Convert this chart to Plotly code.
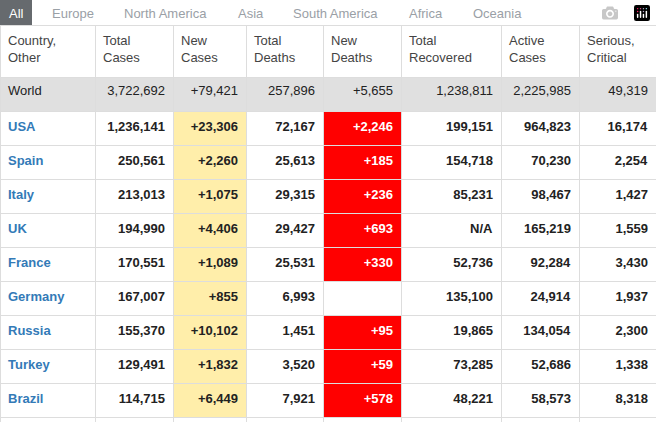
import plotly.graph_objects as go

tabs = ['All', 'Europe', 'North America', 'Asia', 'South America', 'Africa', 'Oceania']
tab_x = [16, 50, 122, 236, 291, 407, 471]

headers = ['Country,<br>Other', 'Total<br>Cases', 'New<br>Cases', 'Total<br>Deaths', 'New<br>Deaths',
           'Total<br>Recovered', 'Active<br>Cases', 'Serious,<br>Critical']
countries = ['World', 'USA', 'Spain', 'Italy', 'UK', 'France', 'Germany', 'Russia', 'Turkey', 'Brazil']
total_cases = ['3,722,692', '1,236,141', '250,561', '213,013', '194,990', '170,551', '167,007', '155,370', '129,491', '114,715']
new_cases = ['+79,421', '+23,306', '+2,260', '+1,075', '+4,406', '+1,089', '+855', '+10,102', '+1,832', '+6,449']
total_deaths = ['257,896', '72,167', '25,613', '29,315', '29,427', '25,531', '6,993', '1,451', '3,520', '7,921']
new_deaths = ['+5,655', '+2,246', '+185', '+236', '+693', '+330', '', '+95', '+59', '+578']
total_recovered = ['1,238,811', '199,151', '154,718', '85,231', 'N/A', '52,736', '135,100', '19,865', '73,285', '48,221']
active_cases = ['2,225,985', '964,823', '70,230', '98,467', '165,219', '92,284', '24,914', '134,054', '52,686', '58,573']
serious = ['49,319', '16,174', '2,254', '1,427', '1,559', '3,430', '1,937', '2,300', '1,338', '8,318']

col_widths = [95, 78, 73, 77, 78, 100, 78, 77]

def bold(vals, first_plain=True):
    out = []
    for i, v in enumerate(vals):
        out.append(v if (i == 0 and first_plain) or v == '' else '<b>' + v + '</b>')
    return out

names = ['World'] + ['<b>' + c + '</b>' for c in countries[1:]]
cols = [names, bold(total_cases), bold(new_cases), bold(total_deaths), bold(new_deaths),
        bold(total_recovered), bold(active_cases), bold(serious)]
cols = [c + [''] for c in cols]  # partial row at bottom

n = len(countries) + 1
gray = '#e0e0e0'
def fill(col_color):
    return [gray] + [col_color] * (n - 1)

nd_fill = [gray] + ['#ff0000' if v else '#ffffff' for v in new_deaths[1:]] + ['#ffffff']
fills = [fill('#ffffff'), fill('#ffffff'), fill('#ffeeaa')[:-1] + ['#ffffff'], fill('#ffffff'), nd_fill,
         fill('#ffffff'), fill('#ffffff'), fill('#ffffff')]
nd_font = ['#222'] + ['#ffffff'] * (n - 1)
font_colors = [['#222'] + ['#337ab7'] * (n - 1)] + [['#222'] * n] * 3 + [nd_font] + [['#222'] * n] * 3

fig = go.Figure(go.Table(
    columnwidth=col_widths,
    domain=dict(x=[0, 1], y=[0, 1 - 25 / 422]),
    header=dict(values=headers, height=52, align='left', fill_color='#ffffff',
                line=dict(color='#dddddd', width=1),
                font=dict(family='Liberation Sans, Arial', size=13, color='#444')),
    cells=dict(values=cols, height=34, align=['left'] + ['right'] * 7, fill_color=fills,
               line=dict(color='#dddddd', width=1),
               font=dict(family='Liberation Sans, Arial', size=13, color=font_colors)),
))

fig.add_shape(type='rect', xref='paper', yref='paper', x0=0, x1=32 / 656, y0=1 - 25 / 422, y1=1,
              fillcolor='#666a6e', line_width=0)
for t, x in zip(tabs, tab_x):
    fig.add_annotation(text=t, x=x / 656, y=1 - 13 / 422, xref='paper', yref='paper', showarrow=False,
                       xanchor='center' if t == 'All' else 'left', yanchor='middle',
                       font=dict(family='Liberation Sans, Arial', size=13,
                                 color='#ffffff' if t == 'All' else '#9aa0a6'))

fig.update_layout(width=656, height=422, margin=dict(l=0, r=0, t=0, b=0),
                  paper_bgcolor='#ffffff')
fig.write_html('out.html', post_script="document.body.style.margin='0';")
